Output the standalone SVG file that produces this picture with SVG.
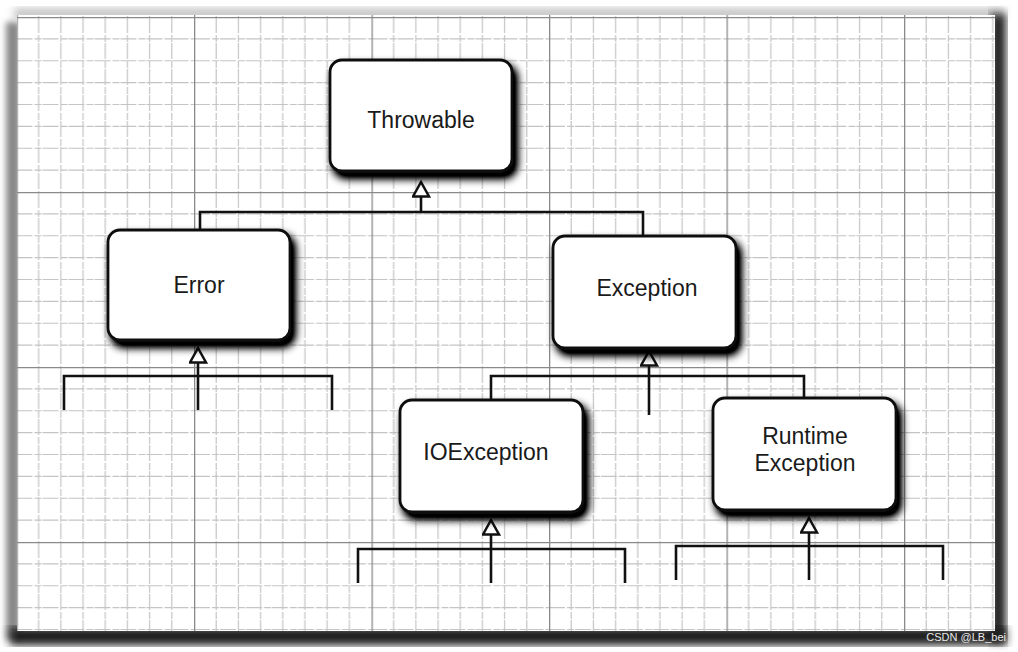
<svg xmlns="http://www.w3.org/2000/svg" width="1018" height="652" viewBox="0 0 1018 652">
<defs>
<pattern id="grid" patternUnits="userSpaceOnUse" x="16.5" y="17" width="177.5" height="175">
<g stroke="#c4c4c4" stroke-width="1.2" stroke-dasharray="16 2 7 1">
<path d="M22.19 0V175M44.38 0V175M66.56 0V175M88.75 0V175M110.94 0V175M133.12 0V175M155.31 0V175"/>
<path d="M0 21.875H177.5M0 43.75H177.5M0 65.625H177.5M0 87.5H177.5M0 109.375H177.5M0 131.25H177.5M0 153.125H177.5"/>
</g>
<g stroke="#8a8a8a" stroke-width="1.6">
<path d="M0.5 0V175M0 0.5H177.5"/>
</g>
</pattern>
<filter id="shadow" x="-20%" y="-20%" width="150%" height="160%">
<feGaussianBlur in="SourceAlpha" stdDeviation="4"/>
<feOffset dx="4" dy="6" result="b"/>
<feComponentTransfer><feFuncA type="linear" slope="1.4"/></feComponentTransfer>
<feMerge><feMergeNode/><feMergeNode in="SourceGraphic"/></feMerge>
</filter>
<filter id="edge" x="-10%" y="-10%" width="120%" height="120%">
<feGaussianBlur stdDeviation="4"/>
</filter>
<filter id="soft" x="-50%" y="-10%" width="200%" height="120%">
<feGaussianBlur stdDeviation="3"/>
</filter>
<marker id="tri" markerWidth="20" markerHeight="20" refX="16" refY="9" orient="auto" markerUnits="userSpaceOnUse" viewBox="0 0 20 20">
<path d="M16 9L1.5 1V17Z" fill="#fff" stroke="#111" stroke-width="2.5" stroke-linejoin="miter"/>
</marker>
<style>
.box{fill:#fff;stroke:#111;stroke-width:2.8}
.lbl{font-family:"Liberation Sans",Arial,sans-serif;font-size:23px;fill:#1a1a1a;text-anchor:middle}
.ln{fill:none;stroke:#111;stroke-width:2.6}
</style>
</defs>
<rect x="0" y="0" width="1018" height="652" fill="#fff"/>
<rect x="6" y="22" width="14" height="618" fill="#888" filter="url(#soft)"/>
<rect x="14" y="8" width="990" height="12" fill="#c4c4c4" filter="url(#edge)"/>
<rect x="990" y="14" width="16" height="628" fill="#222" filter="url(#edge)"/>
<rect x="10" y="627" width="996" height="18" fill="#1a1a1a" filter="url(#edge)"/>
<rect x="17" y="15" width="978" height="616" fill="#fff"/>
<rect x="17" y="15" width="978" height="616" fill="url(#grid)"/>

<g id="connectors">
<path class="ln" d="M421 212V182" marker-end="url(#tri)"/>
<path class="ln" d="M200 230V212H643V236"/>
<path class="ln" d="M198 410V348" marker-end="url(#tri)"/>
<path class="ln" d="M64 410V376H332V410"/>
<path class="ln" d="M649 415V351" marker-end="url(#tri)"/>
<path class="ln" d="M491 400V376H804V398"/>
<path class="ln" d="M491 583V520" marker-end="url(#tri)"/>
<path class="ln" d="M358 583V549H625V583"/>
<path class="ln" d="M809 580V518" marker-end="url(#tri)"/>
<path class="ln" d="M676 580V546H943V580"/>
</g>

<g id="throwable">
<rect class="box" x="330" y="60" width="182" height="111" rx="12" filter="url(#shadow)"/>
<text class="lbl" x="421" y="128">Throwable</text>
</g>
<g id="error">
<rect class="box" x="108" y="230" width="182" height="110" rx="12" filter="url(#shadow)"/>
<text class="lbl" x="199" y="293">Error</text>
</g>
<g id="exception">
<rect class="box" x="553" y="236" width="183" height="112" rx="12" filter="url(#shadow)"/>
<text class="lbl" x="647" y="296">Exception</text>
</g>
<g id="ioexception">
<rect class="box" x="400" y="400" width="183" height="112" rx="12" filter="url(#shadow)"/>
<text class="lbl" x="486" y="460">IOException</text>
</g>
<g id="runtimeexception">
<rect class="box" x="713" y="398" width="183" height="112" rx="12" filter="url(#shadow)"/>
<text class="lbl" x="805" y="444">Runtime</text>
<text class="lbl" x="805" y="471">Exception</text>
</g>
<text x="1006" y="641" font-family="'Liberation Sans',Arial,sans-serif" font-size="11" fill="#e8e8e8" text-anchor="end">CSDN @LB_bei</text>
</svg>
